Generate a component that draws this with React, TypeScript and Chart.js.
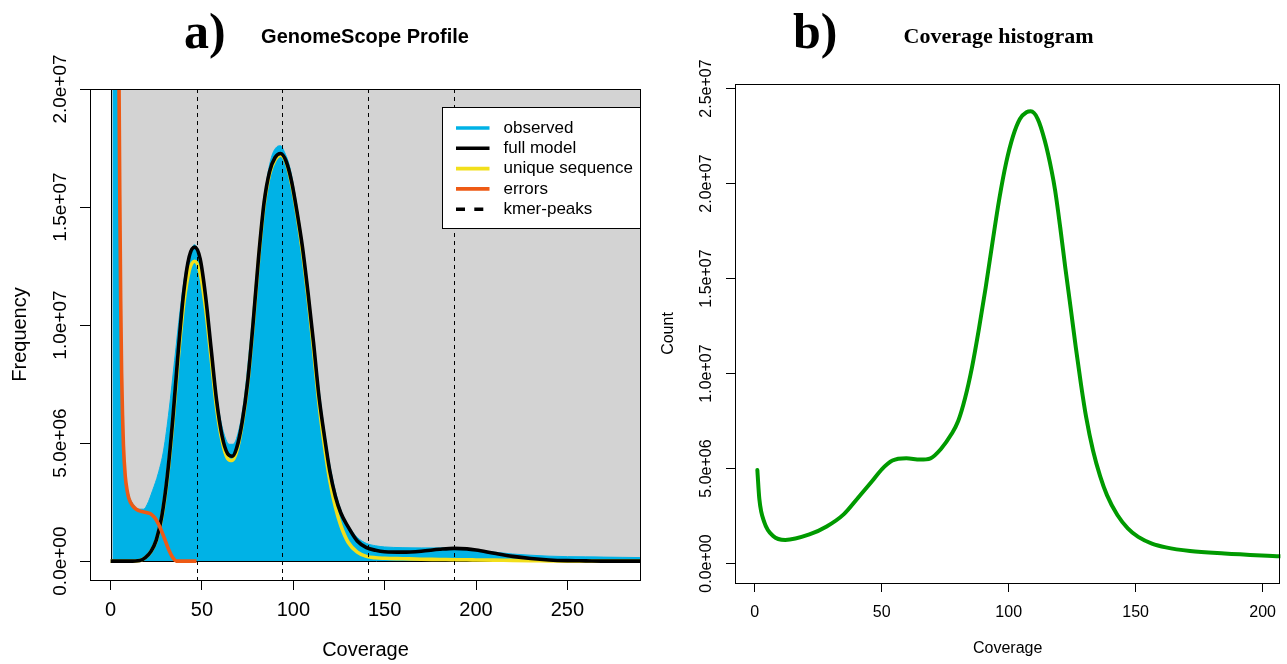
import React, { useEffect, useRef } from 'react';
import { Chart, registerables } from 'chart.js';

Chart.register(...registerables);

const SANS = '"Liberation Sans", Arial, Helvetica, sans-serif';
const SERIF = '"Liberation Serif", "Times New Roman", serif';

// ---------------- Panel a) GenomeScope profile ----------------
const profileXTicks = [0, 50, 100, 150, 200, 250];
const profileYTicks = [0, 5e6, 1e7, 1.5e7, 2e7];
const kmerPeaks = [47, 94, 141, 188];

const observedCoverage = [
  1, 2, 3, 4, 5, 6, 7, 8, 10, 12, 15, 18, 20, 23, 26, 29, 32, 35, 38, 41, 44, 46, 48, 50,
  53, 56, 59, 62, 65, 67, 70, 73, 76, 79, 82, 85, 88, 91, 93, 95, 98, 101, 104, 107, 110,
  113, 116, 119, 122, 125, 128, 131, 135, 140, 145, 150, 160, 170, 180, 190, 200, 210, 220,
  230, 240, 250, 260, 270, 280, 290,
];
const observedFrequency = [
  80e6, 50e6, 32e6, 22e6, 14e6, 8.2e6, 5.2e6, 3.8e6, 2.8e6, 2.45e6, 2.2e6, 2.2e6, 2.4e6,
  3.0e6, 3.7e6, 4.7e6, 6.4e6, 8.5e6, 10.6e6, 12.3e6, 13.2e6, 13.4e6, 13.1e6, 12.4e6,
  10.7e6, 8.4e6, 6.5e6, 5.4e6, 4.95e6, 4.95e6, 5.5e6, 6.8e6, 9.0e6, 11.5e6, 13.9e6, 15.9e6,
  17.1e6, 17.55e6, 17.6e6, 17.35e6, 16.7e6, 15.5e6, 14.0e6, 12.2e6, 10.1e6, 8.0e6, 6.1e6,
  4.5e6, 3.3e6, 2.4e6, 1.8e6, 1.4e6, 1.0e6, 0.75e6, 0.65e6, 0.6e6, 0.57e6, 0.56e6, 0.56e6,
  0.55e6, 0.48e6, 0.38e6, 0.3e6, 0.25e6, 0.21e6, 0.19e6, 0.18e6, 0.17e6, 0.16e6, 0.15e6,
];

const modelCoverage = [
  0, 10, 16, 19, 22, 25, 28, 31, 34, 37, 40, 43, 46, 49, 52, 55, 58, 61, 64, 66.5, 69, 72,
  75, 78, 81, 84, 87, 90, 93, 96, 99, 102, 105, 108, 111, 114, 117, 120, 123, 126, 130, 135,
  140, 145, 150, 160, 170, 180, 188, 195, 200, 210, 220, 230, 240, 250, 260, 270, 290,
];
const fullModel = [
  0, 0, 0.03e6, 0.15e6, 0.4e6, 0.9e6, 1.9e6, 3.6e6, 6.0e6, 8.9e6, 11.4e6, 12.9e6, 13.3e6,
  12.8e6, 11.2e6, 9.0e6, 6.8e6, 5.3e6, 4.55e6, 4.44e6, 4.8e6, 5.9e6, 7.6e6, 10.1e6, 12.9e6,
  15.2e6, 16.5e6, 17.1e6, 17.27e6, 16.95e6, 16.1e6, 14.8e6, 13.3e6, 11.4e6, 9.3e6, 7.0e6,
  5.3e6, 3.8e6, 2.75e6, 2.04e6, 1.45e6, 0.85e6, 0.57e6, 0.46e6, 0.4e6, 0.38e6, 0.42e6,
  0.5e6, 0.54e6, 0.52e6, 0.47e6, 0.33e6, 0.2e6, 0.11e6, 0.05e6, 0.02e6, 0.01e6, 0, 0,
];
const uniqueSequence = [
  0, 0, 0.03e6, 0.15e6, 0.4e6, 0.88e6, 1.85e6, 3.5e6, 5.8e6, 8.6e6, 10.9e6, 12.3e6, 12.7e6,
  12.2e6, 10.7e6, 8.6e6, 6.5e6, 5.1e6, 4.35e6, 4.26e6, 4.65e6, 5.8e6, 7.5e6, 10.0e6, 12.8e6,
  15.1e6, 16.4e6, 17.0e6, 17.2e6, 16.9e6, 16.0e6, 14.7e6, 13.1e6, 11.2e6, 9.0e6, 6.7e6,
  4.9e6, 3.4e6, 2.3e6, 1.5e6, 0.8e6, 0.38e6, 0.2e6, 0.14e6, 0.12e6, 0.1e6, 0.08e6, 0.07e6,
  0.06e6, 0.055e6, 0.05e6, 0.04e6, 0.03e6, 0.02e6, 0.01e6, 0, 0, 0, 0,
];

const errorCoverage = [
  2, 3, 4, 4.6, 5, 5.5, 6, 6.5, 7, 8, 9, 10, 12, 14, 17, 20, 22, 24, 26, 28, 30, 32, 34, 36, 47,
];
const errorFrequency = [
  80e6, 45e6, 26e6, 20e6, 15.5e6, 11e6, 8e6, 6.2e6, 4.9e6, 3.6e6, 3.0e6, 2.65e6, 2.35e6,
  2.2e6, 2.1e6, 2.05e6, 2.0e6, 1.85e6, 1.6e6, 1.25e6, 0.85e6, 0.45e6, 0.15e6, 0, 0,
];

const legendLabels = ['observed', 'full model', 'unique sequence', 'errors', 'kmer-peaks'];

// ---------------- Panel b) Coverage histogram ----------------
const histXTicks = [0, 50, 100, 150, 200];
const histYTicks = [0, 5e6, 1e7, 1.5e7, 2e7, 2.5e7];
const histCoverage = [
  1, 1.8, 3.8, 7.2, 12, 21.5, 28.3, 35.1, 40.6, 46, 50.1, 54.2, 59.7, 65.1, 69.2, 73.3, 77.4,
  80.1, 82.8, 85.5, 88.2, 90.9, 93.6, 96.3, 99, 101.7, 104.4, 107, 108.7, 111.4, 114.2, 116.9,
  118.3, 120.3, 122.3, 124.4, 126.4, 128.5, 130.5, 133.2, 136, 138.7, 142.8, 146.9, 151,
  156.4, 161.9, 171.4, 185, 207,
];
const histCount = [
  4.92e6, 3.38e6, 2.15e6, 1.45e6, 1.24e6, 1.53e6, 1.95e6, 2.6e6, 3.45e6, 4.3e6, 4.97e6,
  5.42e6, 5.54e6, 5.47e6, 5.54e6, 6.03e6, 6.8e6, 7.5e6, 8.7e6, 10.3e6, 12.3e6, 14.5e6,
  16.9e6, 19.2e6, 21.1e6, 22.5e6, 23.4e6, 23.75e6, 23.8e6, 23.41e6, 22.26e6, 20.67e6,
  19.62e6, 17.68e6, 15.56e6, 13.45e6, 11.4e6, 9.4e6, 7.7e6, 5.95e6, 4.6e6, 3.6e6, 2.55e6,
  1.85e6, 1.4e6, 1.05e6, 0.85e6, 0.66e6, 0.53e6, 0.38e6,
];

// ---------------- styles ----------------
const BLUE = '#00b2e6';
const BLACK = '#000000';
const YELLOW = '#f2df1b';
const ORANGE = '#ee5a14';
const GRAY = '#d3d3d3';
const GREEN = '#009a00';

function fmtSci(v: number): string {
  if (v === 0) return '0.0e+00';
  const e = Math.floor(Math.log10(Math.abs(v)) + 1e-9);
  const m = v / Math.pow(10, e);
  return m.toFixed(1) + 'e' + (e < 0 ? '-' : '+') + String(Math.abs(e)).padStart(2, '0');
}

const pts = (xs: number[], ys: number[]) => xs.map((x, i) => ({ x, y: ys[i] }));

const framePlugin = {
  id: 'frame',
  afterDraw(chart: any) {
    const { ctx, chartArea: a } = chart;
    ctx.save();
    ctx.strokeStyle = '#000';
    ctx.lineWidth = 1;
    ctx.setLineDash([]);
    const l = Math.round(a.left) + 0.5;
    const t = Math.round(a.top) + 0.5;
    const r = Math.round(a.right) - 0.5;
    const b = Math.round(a.bottom) + 0.5;
    ctx.strokeRect(l, t, r - l, b - t);
    ctx.restore();
  },
};

function makeProfileConfig(): any {
  const bgPlugin = {
    id: 'gsBackground',
    beforeDatasetsDraw(chart: any) {
      const { ctx, chartArea: a, scales } = chart;
      const x0 = Math.round(scales.x.getPixelForValue(0)) + 0.5;
      const y0 = Math.round(scales.y.getPixelForValue(0)) + 0.5;
      ctx.save();
      ctx.beginPath();
      ctx.rect(a.left, a.top, a.right - a.left, a.bottom - a.top);
      ctx.clip();
      ctx.fillStyle = GRAY;
      ctx.fillRect(x0, a.top - 5, a.right - x0 + 5, y0 - a.top + 5);
      ctx.strokeStyle = '#000';
      ctx.lineWidth = 1;
      ctx.beginPath();
      ctx.moveTo(x0, a.top - 5);
      ctx.lineTo(x0, y0);
      ctx.lineTo(a.right + 5, y0);
      ctx.stroke();
      ctx.restore();
    },
  };
  const overlayPlugin = {
    id: 'gsOverlay',
    afterDatasetsDraw(chart: any) {
      const { ctx, chartArea: a, scales } = chart;
      ctx.save();
      ctx.beginPath();
      ctx.rect(a.left, a.top, a.right - a.left, a.bottom - a.top);
      ctx.clip();
      ctx.strokeStyle = '#000';
      ctx.lineWidth = 1;
      ctx.setLineDash([4, 4]);
      for (const p of kmerPeaks) {
        const px = Math.round(scales.x.getPixelForValue(p)) + 0.5;
        ctx.beginPath();
        ctx.moveTo(px, a.top);
        ctx.lineTo(px, a.bottom);
        ctx.stroke();
      }
      ctx.restore();

      // legend
      const lw = 198;
      const lh = 121;
      const lx = Math.round(a.right) - lw - 0.5;
      const ly = Math.round(a.top) + 18 + 0.5;
      const colors = [BLUE, BLACK, YELLOW, ORANGE, BLACK];
      ctx.save();
      ctx.fillStyle = '#fff';
      ctx.fillRect(lx, ly, lw, lh);
      ctx.strokeStyle = '#000';
      ctx.lineWidth = 1;
      ctx.strokeRect(lx, ly, lw, lh);
      ctx.font = '17px ' + SANS;
      ctx.textBaseline = 'middle';
      ctx.textAlign = 'left';
      legendLabels.forEach((label, i) => {
        const yy = ly + 20.5 + i * 20.3;
        ctx.strokeStyle = colors[i];
        ctx.lineWidth = 3.6;
        ctx.lineCap = 'butt';
        ctx.setLineDash(i === 4 ? [9, 9.3] : []);
        ctx.beginPath();
        ctx.moveTo(lx + 13.5, yy);
        ctx.lineTo(lx + 47, yy);
        ctx.stroke();
        ctx.fillStyle = '#000';
        ctx.fillText(label, lx + 61, yy);
      });
      ctx.restore();
    },
    afterDraw(chart: any) {
      const { ctx } = chart;
      ctx.save();
      ctx.fillStyle = '#000';
      ctx.textBaseline = 'alphabetic';
      ctx.textAlign = 'left';
      ctx.font = 'bold 50px ' + SERIF;
      ctx.fillText('a)', 184, 48);
      ctx.textAlign = 'center';
      ctx.font = 'bold 20px ' + SANS;
      ctx.fillText('GenomeScope Profile', 365, 43);
      ctx.restore();
    },
  };

  const line = (label: string, data: any[], color: string, extra: any = {}) => ({
    label,
    data,
    borderColor: color,
    backgroundColor: color,
    borderWidth: 3.6,
    pointRadius: 0,
    fill: false,
    cubicInterpolationMode: 'monotone',
    ...extra,
  });

  return {
    type: 'line',
    data: {
      datasets: [
        line('errors', pts(errorCoverage, errorFrequency), ORANGE),
        line('full model', pts(modelCoverage, fullModel), BLACK),
        line('unique sequence', pts(modelCoverage, uniqueSequence), YELLOW),
        line('observed', pts(observedCoverage, observedFrequency), BLUE, {
          borderWidth: 1,
          fill: 'origin',
        }),
      ],
    },
    options: {
      responsive: false,
      maintainAspectRatio: false,
      animation: false,
      events: [],
      layout: { padding: { left: 0, right: 19, top: 89, bottom: 0 } },
      plugins: { legend: { display: false }, tooltip: { enabled: false }, title: { display: false } },
      scales: {
        x: {
          type: 'linear',
          min: -11.3,
          max: 290.3,
          afterBuildTicks: (s: any) => {
            s.ticks = profileXTicks.map((v) => ({ value: v }));
          },
          afterFit: (s: any) => {
            s.height = 84;
          },
          grid: { drawOnChartArea: false, drawTicks: true, tickLength: 10, color: '#000', lineWidth: 1 },
          border: { display: false },
          ticks: {
            autoSkip: false,
            maxRotation: 0,
            minRotation: 0,
            padding: 8,
            color: '#000',
            font: { family: SANS, size: 20 },
            callback: (v: any) => String(v),
          },
          title: {
            display: true,
            text: 'Coverage',
            color: '#000',
            font: { family: SANS, size: 20 },
            padding: { top: 0, bottom: 2 },
          },
        },
        y: {
          type: 'linear',
          min: -0.8e6,
          max: 2e7,
          afterBuildTicks: (s: any) => {
            s.ticks = profileYTicks.map((v) => ({ value: v }));
          },
          afterFit: (s: any) => {
            s.width = 90;
          },
          grid: { drawOnChartArea: false, drawTicks: true, tickLength: 10, color: '#000', lineWidth: 1 },
          border: { display: false },
          ticks: {
            autoSkip: false,
            minRotation: 90,
            maxRotation: 90,
            crossAlign: 'center',
            padding: -15.6,
            color: '#000',
            font: { family: SANS, size: 19 },
            callback: (v: any) => fmtSci(Number(v)),
          },
          title: {
            display: true,
            text: 'Frequency',
            color: '#000',
            font: { family: SANS, size: 20 },
            padding: { top: 8, bottom: 0 },
          },
        },
      },
    },
    plugins: [bgPlugin, overlayPlugin, framePlugin],
  };
}

function makeHistConfig(): any {
  const titlePlugin = {
    id: 'histTitle',
    afterDraw(chart: any) {
      const { ctx } = chart;
      ctx.save();
      ctx.fillStyle = '#000';
      ctx.textBaseline = 'alphabetic';
      ctx.textAlign = 'left';
      ctx.font = 'bold 50px ' + SERIF;
      ctx.fillText('b)', 133, 48);
      ctx.textAlign = 'center';
      ctx.font = 'bold 22px ' + SERIF;
      ctx.fillText('Coverage histogram', 338.5, 43);
      ctx.restore();
    },
  };
  return {
    type: 'line',
    data: {
      datasets: [
        {
          label: 'Count',
          data: pts(histCoverage, histCount),
          borderColor: GREEN,
          backgroundColor: GREEN,
          borderWidth: 4,
          pointRadius: 0,
          fill: false,
          cubicInterpolationMode: 'monotone',
          borderCapStyle: 'round',
        },
      ],
    },
    options: {
      responsive: false,
      maintainAspectRatio: false,
      animation: false,
      events: [],
      layout: { padding: { left: 0, right: 1, top: 84, bottom: 0 } },
      plugins: { legend: { display: false }, tooltip: { enabled: false }, title: { display: false } },
      scales: {
        x: {
          type: 'linear',
          min: -7.8,
          max: 207,
          afterBuildTicks: (s: any) => {
            s.ticks = histXTicks.map((v) => ({ value: v }));
          },
          afterFit: (s: any) => {
            s.height = 81;
          },
          grid: { drawOnChartArea: false, drawTicks: true, tickLength: 9, color: '#000', lineWidth: 1 },
          border: { display: false },
          ticks: {
            autoSkip: false,
            maxRotation: 0,
            minRotation: 0,
            padding: 11,
            color: '#000',
            font: { family: SANS, size: 16 },
            callback: (v: any) => String(v),
          },
          title: {
            display: true,
            text: 'Coverage',
            color: '#000',
            font: { family: SANS, size: 16 },
            padding: { top: 0, bottom: 6 },
          },
        },
        y: {
          type: 'linear',
          min: -1.026e6,
          max: 2.524e7,
          afterBuildTicks: (s: any) => {
            s.ticks = histYTicks.map((v) => ({ value: v }));
          },
          afterFit: (s: any) => {
            s.width = 75;
          },
          grid: { drawOnChartArea: false, drawTicks: true, tickLength: 9, color: '#000', lineWidth: 1 },
          border: { display: false },
          ticks: {
            autoSkip: false,
            minRotation: 90,
            maxRotation: 90,
            crossAlign: 'center',
            padding: -10.1,
            color: '#000',
            font: { family: SANS, size: 16 },
            callback: (v: any) => fmtSci(Number(v)),
          },
          title: {
            display: true,
            text: 'Count',
            color: '#000',
            font: { family: SANS, size: 16 },
            padding: { top: -1, bottom: 0 },
          },
        },
      },
    },
    plugins: [titlePlugin, framePlugin],
  };
}

function ChartCanvas({ make, left, width }: { make: () => any; left: number; width: number }) {
  const ref = useRef<HTMLCanvasElement | null>(null);
  useEffect(() => {
    if (!ref.current) return;
    const chart = new Chart(ref.current, make());
    return () => chart.destroy();
  }, [make]);
  return (
    <canvas
      ref={ref}
      width={width}
      height={664}
      style={{ position: 'absolute', left, top: 0, width, height: 664, display: 'block' }}
    />
  );
}

export default function App() {
  return (
    <div
      style={{
        position: 'fixed',
        left: 0,
        top: 0,
        width: 1287,
        height: 664,
        background: '#fff',
        overflow: 'hidden',
      }}
    >
      <ChartCanvas make={makeProfileConfig} left={0} width={660} />
      <ChartCanvas make={makeHistConfig} left={660} width={627} />
    </div>
  );
}
